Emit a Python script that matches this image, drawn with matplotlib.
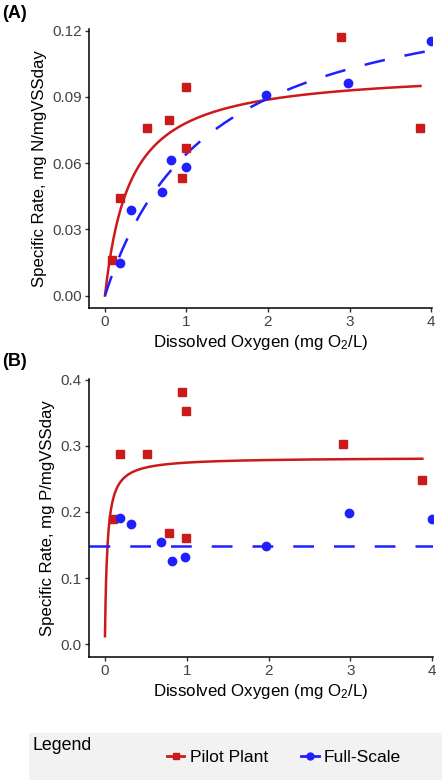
import numpy as np
import matplotlib
matplotlib.use("Agg")
import matplotlib.pyplot as plt
from matplotlib.patches import Rectangle
from matplotlib.lines import Line2D

plt.rcParams['font.family'] = ['Liberation Sans', 'DejaVu Sans']

RED = '#cc1a1a'
BLUE = '#1f1fff'

# Panel A: nitrification rate data
a_pilot_x = [0.09, 0.19, 0.515, 0.78, 0.95, 0.99, 0.99, 2.90, 3.87]
a_pilot_y = [0.0161, 0.0442, 0.076, 0.0795, 0.0533, 0.067, 0.0943, 0.117, 0.076]
a_full_x = [0.18, 0.32, 0.695, 0.81, 0.99, 1.97, 2.98, 4.0]
a_full_y = [0.0149, 0.0386, 0.047, 0.0613, 0.0584, 0.091, 0.0962, 0.1154]

# Panel B: phosphorus rate data
b_pilot_x = [0.094, 0.19, 0.515, 0.78, 0.945, 0.99, 0.99, 2.905, 3.88]
b_pilot_y = [0.190, 0.287, 0.287, 0.168, 0.381, 0.352, 0.161, 0.303, 0.2487]
b_full_x = [0.18, 0.32, 0.69, 0.82, 0.98, 1.97, 2.985, 4.0]
b_full_y = [0.1908, 0.182, 0.1545, 0.126, 0.1314, 0.148, 0.199, 0.189]

# fitted Monod parameters (vmax, K)
a_pilot_fit = (0.1025, 0.31)
a_full_fit = (0.1466, 1.284)
b_pilot_fit = (0.2824, 0.0288)
b_full_level = 0.148


def monod(x, p):
    return p[0] * x / (p[1] + x)


LW = 1.8
DASH = (8.3, 8.0)

fig = plt.figure(figsize=(4.45, 7.83), dpi=100)
axA = fig.add_axes([89 / 445, 1 - 308 / 783, 343 / 445, 279 / 783])
axB = fig.add_axes([88.5 / 445, 1 - 656.7 / 783, 344.5 / 445, 277.7 / 783])

# A
x = np.linspace(0, max(a_pilot_x), 300)
axA.plot(x, monod(x, a_pilot_fit), color=RED, lw=LW, zorder=2)
x = np.linspace(0, max(a_full_x), 300)
axA.plot(x, monod(x, a_full_fit), color=BLUE, lw=LW, dashes=DASH, zorder=2)
axA.plot(a_pilot_x, a_pilot_y, 's', color=RED, ms=5.5, zorder=3)
axA.plot(a_full_x, a_full_y, 'o', color=BLUE, ms=6, zorder=3)
axA.set_xlim(-0.196, 4.012)
axA.set_ylim(-0.0056, 0.1207)
axA.set_yticks([0, 0.03, 0.06, 0.09, 0.12])
axA.set_yticklabels(['0.00', '0.03', '0.06', '0.09', '0.12'])
axA.set_ylabel('Specific Rate, mg N/mgVSSday', fontsize=12.1, labelpad=4)

# B
x = np.linspace(0.0013, max(b_pilot_x), 600)
axB.plot(x, monod(x, b_pilot_fit), color=RED, lw=LW, zorder=2)
axB.axhline(b_full_level, color=BLUE, lw=LW, dashes=DASH, zorder=2)
axB.plot(b_pilot_x, b_pilot_y, 's', color=RED, ms=5.5, zorder=3)
axB.plot(b_full_x, b_full_y, 'o', color=BLUE, ms=6, zorder=3)
axB.set_xlim(-0.2, 4.01)
axB.set_ylim(-0.0187, 0.4008)
axB.set_yticks([0, 0.1, 0.2, 0.3, 0.4])
axB.set_yticklabels(['0.0', '0.1', '0.2', '0.3', '0.4'])
axB.set_ylabel('Specific Rate, mg P/mgVSSday', fontsize=12.1, labelpad=4)

for ax in (axA, axB):
    ax.spines['top'].set_visible(False)
    ax.spines['right'].set_visible(False)
    ax.spines['left'].set_linewidth(1.1)
    ax.spines['bottom'].set_linewidth(1.1)
    ax.set_xticks([0, 1, 2, 3, 4])
    ax.tick_params(labelsize=11, labelcolor='#444444', color='#333333',
                   length=3, width=1, pad=2)
    ax.set_xlabel(r'Dissolved Oxygen (mg $\mathregular{O_2}$/L)', fontsize=12.2, labelpad=3)

fig.text(0.004, 1 - 13 / 783, '(A)', fontsize=13, fontweight='bold', va='center', ha='left')
fig.text(0.004, 1 - 361 / 783, '(B)', fontsize=13, fontweight='bold', va='center', ha='left')

# legend panel
fig.patches.append(Rectangle((29 / 445, 1 - 780 / 783), 413 / 445, 47 / 783,
                             transform=fig.transFigure, facecolor='#f2f2f2',
                             edgecolor='none', zorder=0))
fig.text(33 / 445, 1 - 745 / 783, 'Legend', fontsize=12.8, va='center', ha='left')
handles = [Line2D([], [], color=RED, lw=2, marker='s', ms=5),
           Line2D([], [], color=BLUE, lw=2, marker='o', ms=5)]
fig.legend(handles, ['Pilot Plant', 'Full-Scale'], loc='center left',
           bbox_to_anchor=(151 / 445, 1 - 757 / 783), ncol=2, frameon=False,
           fontsize=12.6, handlelength=1.0, handletextpad=0.3, columnspacing=1.9)

fig.savefig('out.png', dpi=100)
